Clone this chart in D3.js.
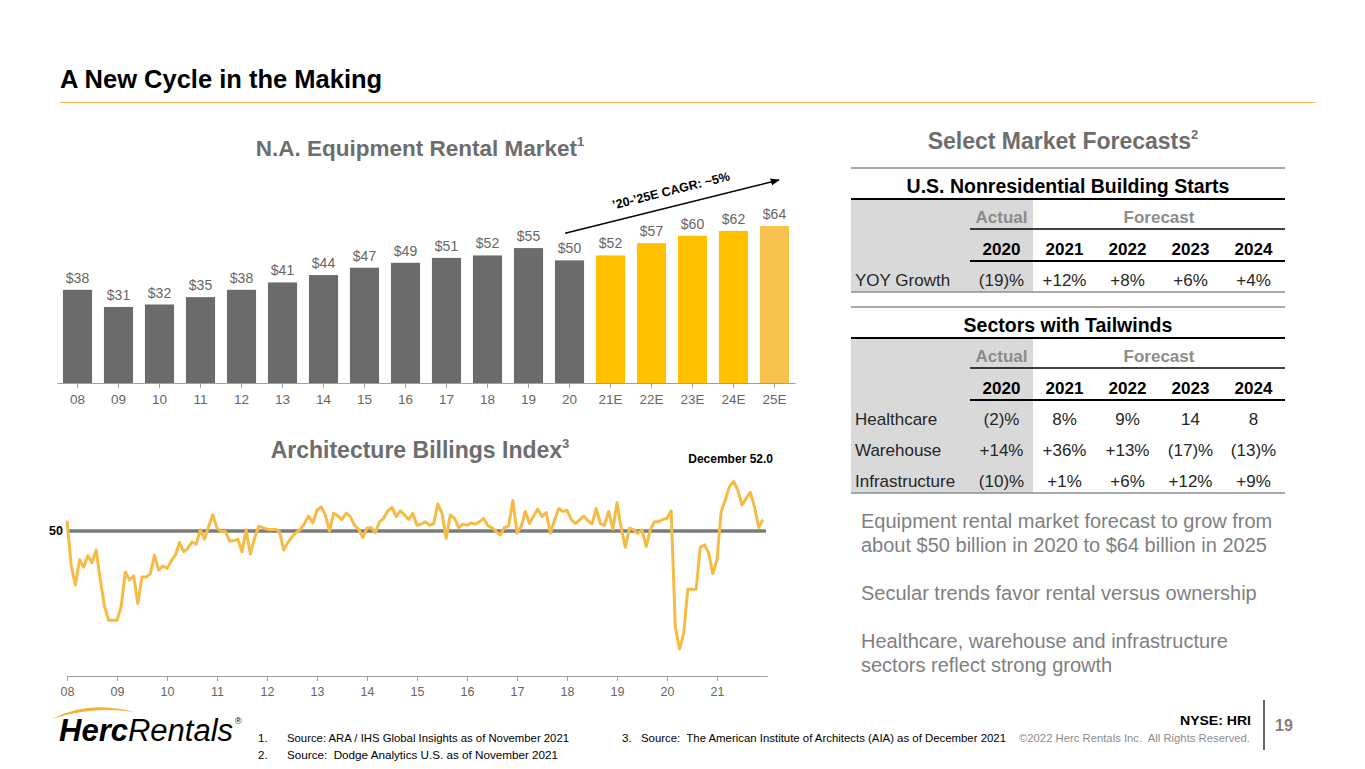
<!DOCTYPE html>
<html>
<head>
<meta charset="utf-8">
<script src="https://cdn.jsdelivr.net/npm/d3@7"></script>
<style>
body { margin: 0; background: #fff; }
svg { display: block; font-family: "Liberation Sans", Arial, sans-serif; }
</style>
</head>
<body>
<script>

// bar chart data (US$ bn)
const rentalYears = ["08","09","10","11","12","13","14","15","16","17","18","19","20","21E","22E","23E","24E","25E"];
const rentalMarket = [38, 31, 32, 35, 38, 41, 44, 47, 49, 51, 52, 55, 50, 52, 57, 60, 62, 64];

// ABI monthly, Jan 2008 .. Dec 2021
const abiTicks = ["08","09","10","11","12","13","14","15","16","17","18","19","20","21"];
const abiIndex = [
  51.8, 44.1, 40.6, 45.0, 43.7, 45.7, 44.5, 46.7, 41.5, 36.9, 34.5, 34.5,
  34.5, 36.9, 42.9, 41.5, 42.2, 37.4, 42.0, 42.0, 42.6, 45.8, 43.2, 43.9,
  43.5, 44.8, 45.8, 48.0, 46.4, 47.0, 48.1, 47.7, 50.2, 48.6, 50.8, 52.8,
  50.5, 49.9, 49.9, 48.3, 48.3, 48.6, 46.4, 50.2, 46.0, 48.7, 50.8, 50.6,
  50.3, 50.2, 50.3, 49.9, 46.7, 48.0, 49.0, 49.7, 50.3, 51.3, 52.6, 51.4,
  53.6, 54.2, 52.8, 50.0, 53.1, 52.6, 52.0, 53.1, 52.5, 51.0, 50.3, 48.9,
  50.5, 50.6, 49.7, 51.6, 52.2, 53.5, 54.1, 52.5, 53.5, 52.8, 52.0, 53.1,
  51.0, 51.2, 51.6, 51.0, 51.3, 54.7, 53.1, 48.7, 52.8, 52.2, 50.6, 51.2,
  51.0, 51.4, 51.2, 51.6, 52.2, 50.9, 50.6, 49.9, 49.3, 50.6, 50.9, 55.3,
  49.6, 50.8, 53.4, 51.3, 52.6, 53.8, 52.5, 53.2, 49.6, 51.9, 53.9, 53.4,
  53.6, 52.0, 51.3, 51.9, 52.6, 51.8, 51.2, 53.9, 51.3, 51.0, 53.4, 50.3,
  54.9, 50.5, 47.2, 50.5, 50.2, 49.6, 50.2, 47.3, 50.2, 51.6, 51.6, 52.0,
  52.2, 53.5, 33.4, 29.5, 32.2, 39.9, 39.9, 39.9, 47.2, 47.6, 46.2, 42.6,
  45.0, 53.4, 55.4, 57.7, 58.6, 57.1, 54.5, 55.7, 56.7, 54.2, 50.6, 52.0
];

// forecast tables
const tableYears = ["2020","2021","2022","2023","2024"];
const nonresLabels = ["YOY Growth"];
const nonresGrowth = [["(19)%","+12%","+8%","+6%","+4%"]];
const sectorLabels = ["Healthcare","Warehouse","Infrastructure"];
const sectorGrowth = [
  ["(2)%","8%","9%","14","8"],
  ["+14%","+36%","+13%","(17)%","(13)%"],
  ["(10)%","+1%","+6%","+12%","+9%"]
];

const bullets = [
  ["Equipment rental market forecast to grow from", "about $50 billion in 2020 to $64 billion in 2025"],
  ["Secular trends favor rental versus ownership"],
  ["Healthcare, warehouse and infrastructure", "sectors reflect strong growth"]
];

const footnotes = [
  ["1.", "Source: ARA / IHS Global Insights as of November 2021"],
  ["2.", "Source:  Dodge Analytics U.S. as of November 2021"],
  ["3.", "Source:  The American Institute of Architects (AIA) as of December 2021"]
];

const grey = "#6b6b6b";
const yellow = "#FFC000";
const lightYellow = "#F8C24F";
const lineYellow = "#F6BB45";

let svg = d3.select("body")
  .append("svg")
  .attr("width", 1365)
  .attr("height", 769);

// header
svg.append("text")
  .attr("x", 60).attr("y", 88)
  .attr("font-size", "25.5px")
  .attr("font-weight", "bold")
  .attr("fill", "#000")
  .text("A New Cycle in the Making");

svg.append("line")
  .attr("x1", 60).attr("x2", 1315)
  .attr("y1", 102.5).attr("y2", 102.5)
  .attr("stroke", "#F4B63F")
  .attr("stroke-width", 1.2);

function titleWithSup(x, y, size, main, sup) {
  let t = svg.append("text")
    .attr("x", x).attr("y", y)
    .attr("text-anchor", "middle")
    .attr("font-size", size + "px")
    .attr("font-weight", "bold")
    .attr("fill", "#6d6d6d");
  t.append("tspan").text(main);
  t.append("tspan")
    .attr("font-size", "13px")
    .attr("dy", -10)
    .text(sup);
}

//
// ###### Bar chart
//
titleWithSup(420, 156, 22.5, "N.A. Equipment Rental Market", "1");

let xBar = d3.scaleBand()
  .domain(rentalYears)
  .range([57, 795])
  .paddingInner(0.29)
  .paddingOuter(0.145);

let yBar = d3.scaleLinear()
  .domain([0, 64])
  .range([383, 226]);

function barColor(d, i) {
  if (i === rentalYears.length - 1) return lightYellow;
  if (rentalYears[i].endsWith("E")) return yellow;
  return grey;
}

svg.selectAll(".bar")
  .data(rentalMarket)
  .enter()
  .append("rect")
  .attr("class", "bar")
  .attr("x", (d, i) => xBar(rentalYears[i]))
  .attr("y", d => yBar(d))
  .attr("width", xBar.bandwidth())
  .attr("height", d => yBar(0) - yBar(d))
  .attr("fill", barColor);

svg.selectAll(".barlabel")
  .data(rentalMarket)
  .enter()
  .append("text")
  .attr("class", "barlabel")
  .attr("x", (d, i) => xBar(rentalYears[i]) + xBar.bandwidth() / 2)
  .attr("y", d => yBar(d) - 7)
  .attr("text-anchor", "middle")
  .attr("font-size", "14px")
  .attr("fill", "#666")
  .text(d => "$" + d);

let barAxis = svg.append("g")
  .attr("transform", "translate(0," + yBar(0) + ")")
  .call(d3.axisBottom(xBar).tickSize(5).tickSizeOuter(0).tickPadding(6));
barAxis.select(".domain").attr("stroke", "#a0a0a0");
barAxis.selectAll(".tick line").attr("stroke", "#a0a0a0");
barAxis.selectAll("text")
  .attr("font-size", "13.5px")
  .attr("font-family", "Liberation Sans, Arial, sans-serif")
  .attr("fill", "#666");

// CAGR arrow
svg.append("defs").append("marker")
  .attr("id", "arrowhead")
  .attr("viewBox", "0 0 10 10")
  .attr("refX", 9).attr("refY", 5)
  .attr("markerWidth", 6).attr("markerHeight", 6)
  .attr("orient", "auto")
  .append("path")
  .attr("d", "M0,1 L10,5 L0,9 Z")
  .attr("fill", "#000");

let a0 = {x: xBar("20") + xBar.bandwidth() * 0.35, y: yBar(50) - 27};
let a1 = {x: xBar("25E") + xBar.bandwidth() * 0.65, y: yBar(64) - 46};
svg.append("line")
  .attr("x1", a0.x).attr("y1", a0.y)
  .attr("x2", a1.x).attr("y2", a1.y)
  .attr("stroke", "#000")
  .attr("stroke-width", 1.5)
  .attr("marker-end", "url(#arrowhead)");

let ang = Math.atan2(a1.y - a0.y, a1.x - a0.x) * 180 / Math.PI;
svg.append("text")
  .attr("transform", "translate(" + ((a0.x + a1.x) / 2) + "," + ((a0.y + a1.y) / 2 - 12) + ") rotate(" + ang + ")")
  .attr("text-anchor", "middle")
  .attr("font-size", "12.5px")
  .attr("font-weight", "bold")
  .attr("fill", "#000")
  .text("\u201920-\u201925E CAGR: ~5%");

//
// ###### Architecture Billings Index
//
titleWithSup(420, 458, 23, "Architecture Billings Index", "3");

svg.append("text")
  .attr("x", 773).attr("y", 463)
  .attr("text-anchor", "end")
  .attr("font-size", "12px")
  .attr("font-weight", "bold")
  .attr("fill", "#000")
  .text("December " + abiIndex[abiIndex.length - 1].toFixed(1));

let xAbi = d3.scaleLinear()
  .domain([0, 168])
  .range([67, 767]);

let yAbi = d3.scaleLinear()
  .domain([25, 65])
  .range([675, 444.6]);

let abiAxis = svg.append("g")
  .attr("transform", "translate(0,676)")
  .call(d3.axisBottom(xAbi)
    .tickValues(abiTicks.map((t, i) => i * 12))
    .tickFormat((d, i) => abiTicks[i])
    .tickSize(5).tickSizeOuter(0).tickPadding(6));
abiAxis.select(".domain").attr("stroke", "#a0a0a0");
abiAxis.selectAll(".tick line").attr("stroke", "#a0a0a0");
abiAxis.selectAll("text")
  .attr("font-size", "12.5px")
  .attr("font-family", "Liberation Sans, Arial, sans-serif")
  .attr("fill", "#666");

// 50 reference
svg.append("line")
  .attr("x1", xAbi(0)).attr("x2", 766)
  .attr("y1", yAbi(50)).attr("y2", yAbi(50))
  .attr("stroke", "#7b7b7b")
  .attr("stroke-width", 3.5);

svg.append("text")
  .attr("x", 63).attr("y", yAbi(50))
  .attr("dy", "0.35em")
  .attr("text-anchor", "end")
  .attr("font-size", "12.5px")
  .attr("font-weight", "bold")
  .attr("fill", "#000")
  .text("50");

let abiLine = d3.line()
  .x((d, i) => xAbi(i))
  .y(d => yAbi(d));

svg.append("path")
  .datum(abiIndex)
  .attr("d", abiLine)
  .attr("fill", "none")
  .attr("stroke", lineYellow)
  .attr("stroke-width", 3)
  .attr("stroke-linejoin", "round");

//
// ###### Forecast tables
//
titleWithSup(1063, 149, 23, "Select Market Forecasts", "2");

let xCol = d3.scaleBand()
  .domain(tableYears)
  .range([970, 1285]);

function drawTable(top, title, labels, rows) {
  let bottom = top + 124 + (rows.length - 1) * 31;

  svg.append("rect")
    .attr("x", 851).attr("y", top + 31)
    .attr("width", xCol("2021") - 851)
    .attr("height", bottom - top - 31)
    .attr("fill", "#d9d9d9");

  svg.append("line")
    .attr("x1", 851).attr("x2", 1285)
    .attr("y1", top).attr("y2", top)
    .attr("stroke", "#8c8c8c").attr("stroke-width", 1.5);

  svg.append("text")
    .attr("x", 1068).attr("y", top + 25)
    .attr("text-anchor", "middle")
    .attr("font-size", "19.5px")
    .attr("font-weight", "bold")
    .attr("fill", "#000")
    .text(title);

  svg.append("line")
    .attr("x1", 851).attr("x2", 1285)
    .attr("y1", top + 31).attr("y2", top + 31)
    .attr("stroke", "#000").attr("stroke-width", 2);

  // Actual / Forecast
  svg.append("text")
    .attr("x", xCol("2020") + xCol.bandwidth() / 2).attr("y", top + 55)
    .attr("text-anchor", "middle")
    .attr("font-size", "17px").attr("font-weight", "bold")
    .attr("fill", "#8c8c8c")
    .text("Actual");
  svg.append("text")
    .attr("x", (xCol("2021") + 1285) / 2).attr("y", top + 55)
    .attr("text-anchor", "middle")
    .attr("font-size", "17px").attr("font-weight", "bold")
    .attr("fill", "#8c8c8c")
    .text("Forecast");

  svg.append("line")
    .attr("x1", 970).attr("x2", 1285)
    .attr("y1", top + 61).attr("y2", top + 61)
    .attr("stroke", "#000").attr("stroke-width", 1.5);

  svg.selectAll(null)
    .data(tableYears)
    .enter()
    .append("text")
    .attr("x", d => xCol(d) + xCol.bandwidth() / 2)
    .attr("y", top + 87)
    .attr("text-anchor", "middle")
    .attr("font-size", "17px").attr("font-weight", "bold")
    .attr("fill", "#000")
    .text(d => d);

  svg.append("line")
    .attr("x1", 970).attr("x2", 1285)
    .attr("y1", top + 93).attr("y2", top + 93)
    .attr("stroke", "#000").attr("stroke-width", 2);

  rows.forEach(function(row, r) {
    let y = top + 118 + r * 31;
    svg.append("text")
      .attr("x", 855).attr("y", y)
      .attr("font-size", "17px")
      .attr("fill", "#262626")
      .text(labels[r]);
    row.forEach(function(v, c) {
      svg.append("text")
        .attr("x", xCol(tableYears[c]) + xCol.bandwidth() / 2)
        .attr("y", y)
        .attr("text-anchor", "middle")
        .attr("font-size", "17px")
        .attr("fill", "#262626")
        .text(v);
    });
  });

  svg.append("line")
    .attr("x1", 851).attr("x2", 1285)
    .attr("y1", bottom).attr("y2", bottom)
    .attr("stroke", "#8c8c8c").attr("stroke-width", 1.5);
}

drawTable(168, "U.S. Nonresidential Building Starts", nonresLabels, nonresGrowth);
drawTable(307, "Sectors with Tailwinds", sectorLabels, sectorGrowth);

// commentary
let by = 528;
bullets.forEach(function(par) {
  par.forEach(function(line) {
    svg.append("text")
      .attr("x", 861).attr("y", by)
      .attr("font-size", "20px")
      .attr("fill", "#7f7f7f")
      .text(line);
    by += 24;
  });
  by += 24;
});

//
// ###### Footer
//
svg.append("path")
  .attr("d", "M52,719 Q88,700 134,712 Q92,706 52,719 Z")
  .attr("fill", "#F5B335");

let logo = svg.append("text")
  .attr("x", 59).attr("y", 741)
  .attr("font-size", "31px")
  .attr("font-style", "italic")
  .attr("fill", "#000");
logo.append("tspan").attr("font-weight", "bold").text("Herc");
logo.append("tspan").attr("font-weight", "normal").text("Rentals");
svg.append("text")
  .attr("x", 235).attr("y", 724)
  .attr("font-size", "9px")
  .attr("fill", "#000")
  .text("\u00AE");

// footnotes: [x of number, x of text, baseline, width of text]
const fnPos = [[258, 287, 742, 282], [258, 287, 759, 271], [622, 641, 742, 365]];
footnotes.forEach(function(f, i) {
  let p = fnPos[i];
  svg.append("text")
    .attr("x", p[0]).attr("y", p[2])
    .attr("font-size", "11.5px")
    .attr("fill", "#000")
    .text(f[0]);
  svg.append("text")
    .attr("x", p[1]).attr("y", p[2])
    .attr("font-size", "11.5px")
    .attr("fill", "#000")
    .attr("textLength", p[3])
    .attr("lengthAdjust", "spacingAndGlyphs")
    .style("white-space", "pre")
    .text(f[1]);
});

svg.append("text")
  .attr("x", 1019).attr("y", 742)
  .attr("font-size", "11.5px")
  .attr("fill", "#8c8c8c")
  .attr("textLength", 231)
  .attr("lengthAdjust", "spacingAndGlyphs")
  .style("white-space", "pre")
  .text("\u00A92022 Herc Rentals Inc.  All Rights Reserved.");

svg.append("text")
  .attr("x", 1251).attr("y", 725)
  .attr("text-anchor", "end")
  .attr("font-size", "13px")
  .attr("font-weight", "bold")
  .attr("fill", "#000")
  .attr("textLength", 71)
  .attr("lengthAdjust", "spacingAndGlyphs")
  .text("NYSE: HRI");

svg.append("line")
  .attr("x1", 1264).attr("x2", 1264)
  .attr("y1", 700).attr("y2", 750)
  .attr("stroke", "#000").attr("stroke-width", 1.2);

svg.append("text")
  .attr("x", 1275).attr("y", 731)
  .attr("font-size", "16px")
  .attr("font-weight", "bold")
  .attr("fill", "#7f7f7f")
  .text("19");

</script>
</body>
</html>
